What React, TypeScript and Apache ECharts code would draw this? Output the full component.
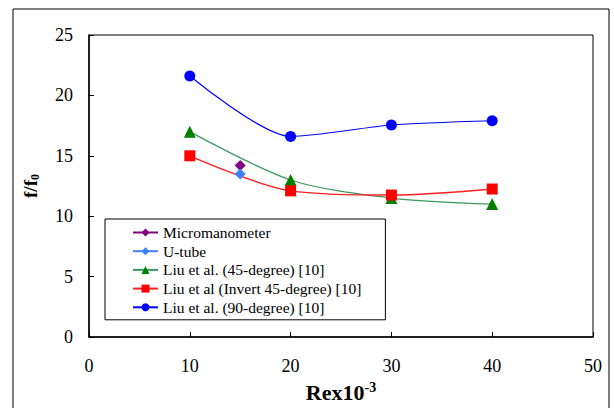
import React, { useEffect, useRef } from "react";
import * as echarts from "echarts";

const xTicks = [0, 10, 20, 30, 40, 50];
const microX = [15];
const microY = [14.2];
const utubeX = [15];
const utubeY = [13.5];
const liu45X = [10, 20, 30, 40];
const liu45Y = [17.0, 13.0, 11.5, 11.0];
const liuInvX = [10, 20, 30, 40];
const liuInvY = [15.0, 12.1, 11.75, 12.25];
const liu90X = [10, 20, 30, 40];
const liu90Y = [21.6, 16.6, 17.55, 17.9];

const names = [
  "Micromanometer",
  "U-tube",
  "Liu et al. (45-degree) [10]",
  "Liu et al (Invert 45-degree) [10]",
  "Liu et al. (90-degree) [10]",
];

const FONT = "Liberation Serif";

function pairs(xs: number[], ys: number[]) {
  return xs.map((x, i) => [x, ys[i]]);
}

export default function App() {
  const ref = useRef<HTMLDivElement>(null);
  useEffect(() => {
    if (!ref.current) return;
    const chart = echarts.init(ref.current, null, { renderer: "svg" });
    chart.setOption({
      animation: false,
      backgroundColor: "#fff",
      textStyle: { fontFamily: FONT },
      graphic: [
        {
          type: "rect",
          shape: { x: 13, y: 9, width: 596, height: 430 },
          style: { fill: "none", stroke: "#000", lineWidth: 1 },
          z: 0,
        },
      ],
      grid: {
        left: 89,
        top: 35,
        right: 614 - 593,
        bottom: 408 - 337,
        outerBoundsMode: "none",
        containLabel: false,
        show: true,
        borderColor: "#000",
        borderWidth: 1,
        backgroundColor: "transparent",
      },
      legend: {
        orient: "vertical",
        left: 105,
        top: 219,
        padding: [5, 24, 4, 27],
        itemWidth: 25,
        itemHeight: 10,
        itemGap: 1.7,
        borderColor: "#000",
        borderWidth: 1,
        backgroundColor: "#fff",
        textStyle: { fontFamily: FONT, fontSize: 15.5, color: "#000", lineHeight: 17 },
        data: names,
      },
      xAxis: {
        type: "value",
        min: 0,
        max: 50,
        interval: 10,
        axisLine: { lineStyle: { color: "#000", width: 1.5 } },
        axisTick: { inside: true, length: 5, lineStyle: { color: "#000" } },
        splitLine: { show: false },
        axisLabel: {
          margin: 20,
          color: "#000",
          fontSize: 18,
          fontFamily: FONT,
          formatter: (v: number) => (xTicks.includes(v) ? String(v) : ""),
        },
        name: "{a|Rex10}{s|-3}",
        nameLocation: "middle",
        nameGap: 43,
        nameTextStyle: {
          rich: {
            a: { fontSize: 22, fontWeight: "bold", fontFamily: FONT, color: "#000", lineHeight: 24 },
            s: {
              fontSize: 14,
              fontWeight: "bold",
              fontFamily: FONT,
              color: "#000",
              verticalAlign: "top",
              lineHeight: 24,
              padding: [0, 0, 9, 0],
            },
          },
        },
      },
      yAxis: {
        type: "value",
        min: 0,
        max: 25,
        interval: 5,
        axisLine: { show: true, lineStyle: { color: "#000", width: 1.5 } },
        axisTick: { show: true, inside: true, length: 5, lineStyle: { color: "#000" } },
        splitLine: { show: false },
        axisLabel: { margin: 16, color: "#000", fontSize: 18, fontFamily: FONT },
        name: "{a|f/f}{s|0}",
        nameLocation: "middle",
        nameGap: 48,
        nameTextStyle: {
          rich: {
            a: { fontSize: 19, fontWeight: "bold", fontFamily: FONT, color: "#000", lineHeight: 22 },
            s: {
              fontSize: 12,
              fontWeight: "bold",
              fontFamily: FONT,
              color: "#000",
              verticalAlign: "bottom",
              lineHeight: 22,
              padding: [6, 0, 0, 0],
            },
          },
        },
      },
      series: [
        {
          name: names[0],
          type: "line",
          data: pairs(microX, microY),
          symbol: "diamond",
          symbolSize: 11,
          itemStyle: { color: "#800080" },
          lineStyle: { color: "#800080", width: 1.2 },
          z: 5,
        },
        {
          name: names[1],
          type: "line",
          data: pairs(utubeX, utubeY),
          symbol: "diamond",
          symbolSize: 11,
          itemStyle: { color: "#3f7fff" },
          lineStyle: { color: "#3f7fff", width: 1.2 },
          z: 5,
        },
        {
          name: names[2],
          type: "line",
          data: pairs(liu45X, liu45Y),
          smooth: 0.3,
          symbol: "triangle",
          symbolSize: 12,
          itemStyle: { color: "#008000" },
          lineStyle: { color: "#3a9a60", width: 1.2 },
        },
        {
          name: names[3],
          type: "line",
          data: pairs(liuInvX, liuInvY),
          smooth: 0.3,
          symbol: "rect",
          symbolSize: 11,
          itemStyle: { color: "#ff0000" },
          lineStyle: { color: "#ff2020", width: 1.4 },
        },
        {
          name: names[4],
          type: "line",
          data: pairs(liu90X, liu90Y),
          smooth: 0.25,
          symbol: "circle",
          symbolSize: 11,
          itemStyle: { color: "#0000ff" },
          lineStyle: { color: "#0000ff", width: 1.2 },
        },
      ],
    });
    return () => chart.dispose();
  }, []);
  return (
    <div
      ref={ref}
      style={{ position: "absolute", left: 0, top: 0, width: 614, height: 408 }}
    />
  );
}
